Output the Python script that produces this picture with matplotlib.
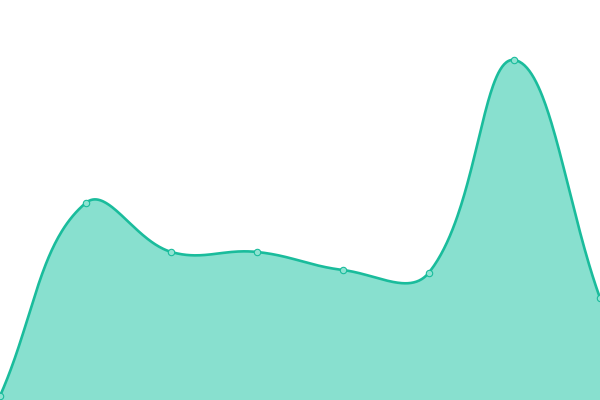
import numpy as np
import matplotlib
matplotlib.use("Agg")
import matplotlib.pyplot as plt

categories = ["A", "B", "C", "D", "E", "F", "G", "H"]
values = [2, 98.5, 74, 74, 65, 63.5, 170, 51]

W, H = 600, 400
XMAX, YMAX = len(categories) - 1, 200
sx, sy = W / XMAX, H / YMAX

fig = plt.figure(figsize=(6, 4), dpi=100)
ax = fig.add_axes([0, 0, 1, 1])
ax.set_xlim(0, XMAX)
ax.set_ylim(0, YMAX)
ax.axis("off")

x = np.arange(len(values), dtype=float)
y = np.array(values, dtype=float)
P = np.column_stack([x * sx, y * sy])
n = len(P)
tension = 0.4
cp_in = np.zeros_like(P)
cp_out = np.zeros_like(P)
for i in range(n):
    prev = P[i - 1] if i > 0 else P[i]
    nxt = P[i + 1] if i < n - 1 else P[i]
    d01 = np.linalg.norm(P[i] - prev)
    d12 = np.linalg.norm(nxt - P[i])
    s = d01 + d12
    s01 = d01 / s
    s12 = d12 / s
    v = nxt - prev
    cp_in[i] = P[i] - tension * s01 * v
    cp_out[i] = P[i] + tension * s12 * v
cp_in[:, 0] = np.clip(cp_in[:, 0], 0, W)
cp_out[:, 0] = np.clip(cp_out[:, 0], 0, W)
cp_in[:, 1] = np.clip(cp_in[:, 1], 0, H)
cp_out[:, 1] = np.clip(cp_out[:, 1], 0, H)

t = np.linspace(0, 1, 80)[:, None]
pts = []
for i in range(n - 1):
    p0, p1, p2, p3 = P[i], cp_out[i], cp_in[i + 1], P[i + 1]
    seg = ((1 - t) ** 3) * p0 + 3 * ((1 - t) ** 2) * t * p1 + 3 * (1 - t) * t ** 2 * p2 + t ** 3 * p3
    pts.append(seg if i == 0 else seg[1:])
curve = np.vstack(pts)
cx, cy = curve[:, 0] / sx, curve[:, 1] / sy

ax.fill(np.concatenate([cx, [cx[-1], cx[0]]]), np.concatenate([cy, [0, 0]]),
        color="#88e0cf", lw=0, zorder=1)
ax.plot(cx, cy, color="#1abc9c", lw=1.9, zorder=2, solid_capstyle="round")
ax.plot(x, y, "o", ms=4.6, mfc="#8fe3d2", mec="#1abc9c", mew=0.8, zorder=3)

fig.savefig("out.png", dpi=100)
